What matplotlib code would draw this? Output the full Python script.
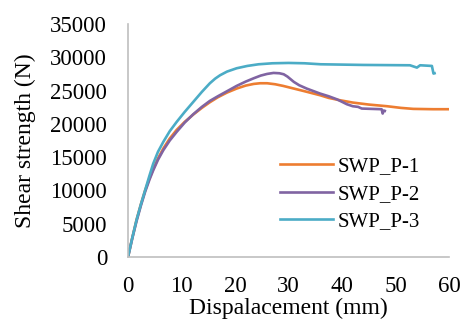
import numpy as np
import matplotlib
matplotlib.use('Agg')
import matplotlib.pyplot as plt
import matplotlib.ticker as ticker

plt.rcParams['font.family'] = ['Liberation Serif', 'DejaVu Serif']

# SWP_P-1
disp_1 = [0, 0.8, 1.6, 2.4, 3.2, 4.0, 4.7, 5.6, 6.6, 7.8, 9.1, 10.6, 12.2, 13.8, 15.3,
          16.8, 18.5, 20.3, 22.0, 23.5, 24.7, 26.0, 27.5, 29.0, 31.0, 33.0, 35.9, 37.5,
          39.6, 42.0, 45.0, 48.4, 51.0, 53.3, 57.0, 60.5]
force_1 = [0, 2900, 5600, 7900, 10000, 11800, 13200, 14800, 16300, 17800, 19100, 20300,
           21400, 22400, 23250, 24000, 24700, 25300, 25750, 26000, 26100, 26100, 25950,
           25700, 25300, 24900, 24300, 23900, 23550, 23200, 22900, 22650, 22400, 22250,
           22200, 22200]

# SWP_P-2
disp_2 = [0, 0.8, 1.6, 2.4, 3.2, 4.0, 4.7, 5.6, 6.6, 7.8, 9.1, 10.6, 12.2, 13.8, 15.3,
          16.8, 18.5, 20.3, 22.0, 23.5, 24.8, 26.0, 27.2, 28.3, 29.1, 29.8, 30.4, 31.0,
          32.0, 33.4, 35.9, 37.5, 39.0, 39.9, 40.9, 42.0, 43.0, 43.7, 45.5, 47.4, 47.6,
          47.8, 48.0]
force_2 = [0, 2800, 5400, 7700, 9800, 11600, 13000, 14600, 16050, 17500, 18800, 20200,
           21450, 22550, 23450, 24150, 24900, 25700, 26350, 26850, 27250, 27500, 27650,
           27600, 27450, 27100, 26700, 26300, 25800, 25300, 24550, 24150, 23700, 23350,
           22950, 22650, 22550, 22300, 22250, 22200, 21550, 22000, 21950]

# SWP_P-3
disp_3 = [0, 0.8, 1.6, 2.4, 3.2, 4.0, 4.7, 5.6, 6.6, 7.8, 9.1, 10.6, 12.2, 13.8, 15.3,
          16.3, 17.2, 18.5, 20.3, 22.3, 24.4, 27.0, 30.0, 33.0, 36.0, 44.0, 52.7, 54.0,
          54.6, 56.8, 57.1, 57.3]
force_3 = [0, 2900, 5600, 7900, 10050, 12200, 14000, 15800, 17300, 18900, 20300, 21800,
           23300, 24800, 26100, 26800, 27300, 27850, 28350, 28700, 28950, 29100, 29150,
           29100, 28950, 28850, 28800, 28450, 28800, 28700, 27550, 27600]

fig = plt.figure(figsize=(4.61, 3.23), dpi=100)
ax = fig.add_axes([0.2777, 0.2043, 0.6963, 0.7214])

ax.plot(disp_1, force_1, color='#ED7D31', lw=1.9, label='SWP_P-1')
ax.plot(disp_2, force_2, color='#8064A2', lw=1.9, label='SWP_P-2')
ax.plot(disp_3, force_3, color='#4BACC6', lw=1.9, label='SWP_P-3')

ax.set_xlim(0, 60)
ax.set_ylim(0, 35000)
ax.xaxis.set_major_locator(ticker.MultipleLocator(10))
ax.yaxis.set_major_locator(ticker.MultipleLocator(5000))
ax.tick_params(length=0, labelsize=16.5, colors='black', pad=14)
ax.tick_params(axis='y', pad=15)

for s in ['top', 'right']:
    ax.spines[s].set_visible(False)
for s in ['left', 'bottom']:
    ax.spines[s].set_color('#BFBFBF')
    ax.spines[s].set_linewidth(1.2)

ax.set_xlabel('Dispalacement (mm)', fontsize=17, labelpad=0)
ax.set_ylabel('Shear strength (N)', fontsize=17, labelpad=10)

ax.legend(loc='upper left', bbox_to_anchor=(0.4735, 0.43), frameon=False, fontsize=15,
          handlelength=2.55, handletextpad=0.2, labelspacing=0.38, borderpad=0,
          borderaxespad=0)

fig.savefig('out.png', dpi=100)
